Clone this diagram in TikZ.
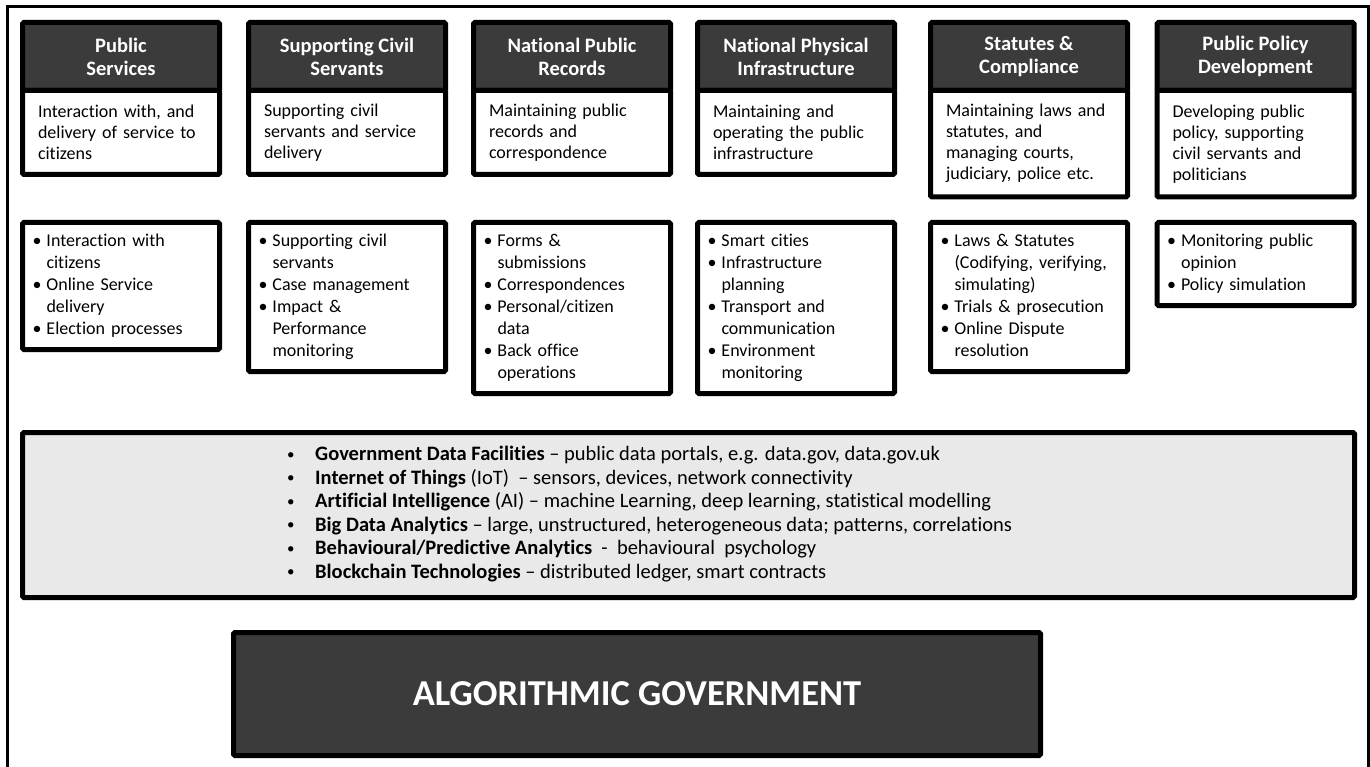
\documentclass[tikz,border=0pt]{standalone}
\usepackage{fontspec}
\setmainfont{Carlito}[Ligatures={TeX,NoCommon}]
\usetikzlibrary{positioning}
\usepackage{xcolor}
\definecolor{hdrgray}{RGB}{59,59,59}
\definecolor{panelgray}{RGB}{233,233,233}
\newcommand{\bul}{\makebox[14pt][l]{\textbullet}}
\newcommand{\ind}{\hspace*{14pt}}
\newcommand{\gbul}{\makebox[28pt][l]{\raisebox{1.5pt}{\fontsize{15}{15}\selectfont\textbullet}}}

\begin{document}
\begin{tikzpicture}[x=1pt, y=-1pt, node distance=0pt,
    box/.style={draw=black, line width=5pt, rounded corners=1.5pt, outer sep=0pt, minimum width=197pt},
    head/.style={box, fill=hdrgray, text=white, font=\fontsize{20.5}{23}\selectfont\bfseries, align=center, minimum height=68pt, inner sep=0pt},
    desc/.style={box, fill=white, font=\fontsize{18}{21}\selectfont, align=left, text width=166pt, inner xsep=15.5pt, minimum height=84pt},
    items/.style={box, fill=white, font=\fontsize{18}{22}\selectfont, align=left, text width=177pt, inner xsep=10pt, inner ysep=8.5pt, execute at begin node=\strut, execute at end node=\strut}]
    \useasboundingbox (0,0) rectangle (1370,767);
    % outer frame, open at the bottom
    \draw[line width=3pt] (7.5,790) -- (7.5,6.5) -- (1368,6.5) -- (1368,790);

    % government functions
    \node[head, anchor=north] (h1) at (121,22.5) {Public\\Services};
    \node[head, anchor=north] (h2) at (347,22.5) {Supporting Civil\\Servants};
    \node[head, anchor=north] (h3) at (572,22.5) {National Public\\Records};
    \node[head, anchor=north] (h4) at (796,22.5) {National Physical\\Infrastructure};
    \node[head, anchor=north] (h5) at (1029,22.5) {Statutes \&\\Compliance};
    \node[head, anchor=north] (h6) at (1255.5,22.5) {Public Policy\\Development};

    \node[desc, below=of h1] (d1) {Interaction with, and\\delivery of service to\\citizens};
    \node[desc, below=of h2] (d2) {Supporting civil\\servants and service\\delivery};
    \node[desc, below=of h3] (d3) {Maintaining public\\records and\\correspondence};
    \node[desc, below=of h4] (d4) {Maintaining and\\operating the public\\infrastructure};
    \node[desc, below=of h5, minimum height=106.5pt] (d5) {Maintaining laws and\\statutes, and\\managing courts,\\judiciary, police etc.};
    \node[desc, below=of h6, minimum height=106.5pt] (d6) {Developing public\\policy, supporting\\civil servants and\\politicians};

    % application areas
    \node[items, anchor=north] (l1) at (121,222.5) {\bul Interaction with\\\ind citizens\\\bul Online Service\\\ind delivery\\\bul Election processes};
    \node[items, anchor=north] (l2) at (347,222.5) {\bul Supporting civil\\\ind servants\\\bul Case management\\\bul Impact \&\\\ind Performance\\\ind monitoring};
    \node[items, anchor=north] (l3) at (572,222.5) {\bul Forms \&\\\ind submissions\\\bul Correspondences\\\bul Personal/citizen\\\ind data\\\bul Back office\\\ind operations};
    \node[items, anchor=north] (l4) at (796,222.5) {\bul Smart cities\\\bul Infrastructure\\\ind planning\\\bul Transport and\\\ind communication\\\bul Environment\\\ind monitoring};
    \node[items, anchor=north] (l5) at (1029,222.5) {\bul Laws \& Statutes\\\ind (Codifying, verifying,\\\ind simulating)\\\bul Trials \& prosecution\\\bul Online Dispute\\\ind resolution};
    \node[items, anchor=north] (l6) at (1255.5,222.5) {\bul Monitoring public\\\ind opinion\\\bul Policy simulation};

    % enabling technologies
    \node[box, fill=panelgray, minimum width=1332pt, minimum height=165pt] (tech) at (688.5,515) {};
    \node[anchor=north west, align=left, inner sep=0pt, font=\fontsize{20.5}{23.5}\selectfont, execute at begin node=\strut] (techlist) at (287,446) {\gbul\textbf{Government Data Facilities} -- public data portals, e.g. data.gov, data.gov.uk\\
        \gbul\textbf{Internet of Things} (IoT) ~-- sensors, devices, network connectivity\\
        \gbul\textbf{Artificial Intelligence} (AI) -- machine Learning, deep learning, statistical modelling\\
        \gbul\textbf{Big Data Analytics} -- large, unstructured, heterogeneous data; patterns, correlations\\
        \gbul\textbf{Behavioural/Predictive Analytics} ~- ~behavioural ~psychology\\
        \gbul\textbf{Blockchain Technologies} -- distributed ledger, smart contracts};

    % result
    \node[box, fill=hdrgray, text=white, font=\fontsize{36.5}{40}\selectfont\bfseries, minimum width=807pt, minimum height=123pt] (algo) at (637,694) {ALGORITHMIC GOVERNMENT};
\end{tikzpicture}
\end{document}
